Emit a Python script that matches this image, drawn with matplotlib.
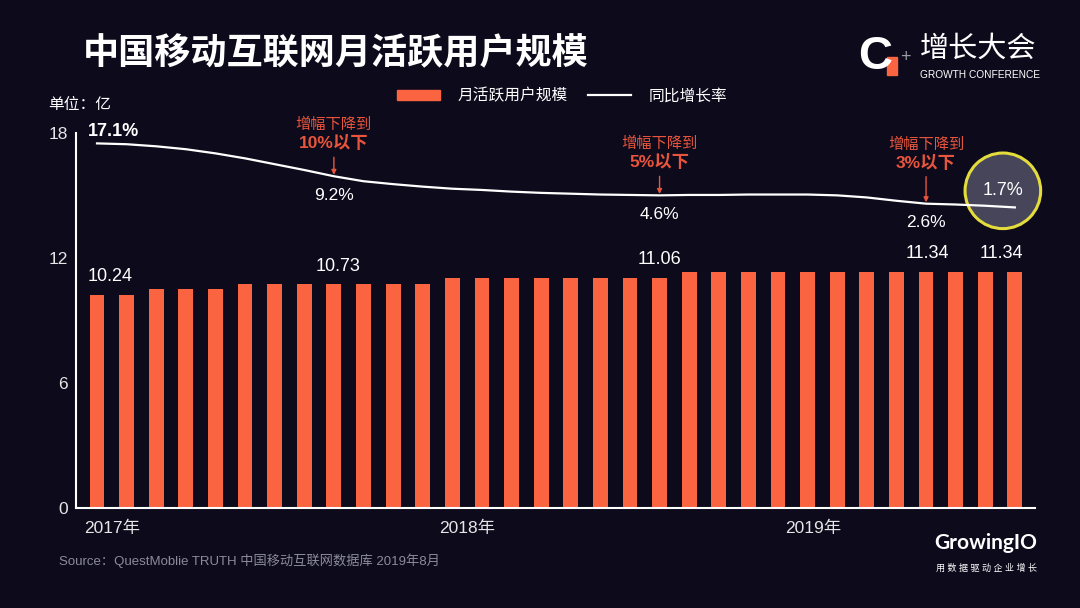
import matplotlib
matplotlib.use("Agg")
import matplotlib.pyplot as plt
from matplotlib.patches import Circle, Rectangle
from matplotlib.lines import Line2D
from matplotlib.transforms import IdentityTransform

plt.rcParams['font.family'] = ['Liberation Sans', 'Noto Sans CJK SC', 'DejaVu Sans']

# monthly data, 2017-01 .. 2019-08
months = list(range(32))
mau = [10.24, 10.24, 10.50, 10.50, 10.50, 10.73, 10.73, 10.73, 10.73, 10.73,
       10.73, 10.73, 11.06, 11.06, 11.06, 11.06, 11.06, 11.06, 11.06, 11.06,
       11.34, 11.34, 11.34, 11.34, 11.34, 11.34, 11.34, 11.34, 11.34, 11.34,
       11.34, 11.34]
growth = [17.1, 16.9, 16.4, 15.7, 14.7, 13.5, 12.1, 10.7, 9.2, 8.0,
          7.3, 6.7, 6.2, 5.9, 5.5, 5.2, 5.0, 4.8, 4.7, 4.6,
          4.7, 4.7, 4.8, 4.8, 4.8, 4.6, 4.1, 3.3, 2.6, 2.4,
          2.1, 1.7]

year_pos = [0.5, 12.5, 24.2]
year_labels = ['2017年', '2018年', '2019年']

bar_label_idx = [0, 8, 19, 28, 30]
bar_label_dx = [13, 4, 0, 1, 16]   # px

drop_idx = [8, 19, 28]
drop_text = ['10%以下', '5%以下', '3%以下']
drop_lift = [0, 0, 8]   # px

BG = '#0C0A1B'
ORANGE = '#FA6440'
RED = '#E8553C'
PT = 0.72  # points per pixel at dpi 100


def fx(px):
    return px / 1080


def fy(py):
    return 1 - py / 608


fig = plt.figure(figsize=(10.8, 6.08), dpi=100, facecolor=BG)
ax = fig.add_axes([fx(76), fy(508), fx(1035 - 76), (508 - 133) / 608])
ax.set_facecolor(BG)

ax.bar(months, mau, width=0.5, color=ORANGE, zorder=2)
ax.set_xlim(-0.71, 31.68)
ax.set_ylim(0, 18)
ax.set_yticks([0, 6, 12, 18])
ax.set_xticks(year_pos)
ax.set_xticklabels(year_labels)
for s in ['top', 'right']:
    ax.spines[s].set_visible(False)
for s in ['left', 'bottom']:
    ax.spines[s].set_color('white')
    ax.spines[s].set_linewidth(1.5)
ax.tick_params(length=0, colors='#E6E6E6', labelsize=12.5)
ax.tick_params(axis='x', pad=9)
ax.tick_params(axis='y', pad=6)

for i, dx in zip(bar_label_idx, bar_label_dx):
    ax.annotate(f'{mau[i]:.2f}', (i, mau[i]), xytext=(dx * PT, 13),
                textcoords='offset points', ha='center', va='center',
                color='white', fontsize=13)

# growth rate on hidden twin axis
ax2 = ax.twinx()
ax2.set_ylim(-70.6, 19.6)
ax2.set_axis_off()
ax2.plot(months, growth, color='white', lw=1.6, zorder=3)

ax2.annotate(f'{growth[0]}%', (0, growth[0]), xytext=(16 * PT, 12 * PT),
             textcoords='offset points', ha='center', va='center',
             color='white', fontsize=13, fontweight='bold')

for i, txt, lift in zip(drop_idx, drop_text, drop_lift):
    ax2.annotate('', xy=(i, growth[i]), xytext=(0, (19 + lift) * PT),
                 textcoords='offset points',
                 arrowprops=dict(arrowstyle='-|>', color=RED, lw=1.0,
                                 mutation_scale=7, shrinkA=0, shrinkB=1))
    ax2.annotate(txt, (i, growth[i]), xytext=(0, (33 + lift) * PT),
                 textcoords='offset points', ha='center', va='center',
                 color=RED, fontsize=12.5, fontweight='bold')
    ax2.annotate('增幅下降到', (i, growth[i]), xytext=(0, (51 + lift) * PT),
                 textcoords='offset points', ha='center', va='center',
                 color=RED, fontsize=11)
    ax2.annotate(f'{growth[i]}%', (i, growth[i]), xytext=(0, -19 * PT),
                 textcoords='offset points', ha='center', va='center',
                 color='white', fontsize=12.5)

# highlight circle around the latest value
px, py = ax2.transData.transform((months[-1], growth[-1]))
cx, cy = px - 12, py + 16.6
ax2.add_patch(Circle((cx, cy), 37.8, transform=IdentityTransform(),
                     facecolor='#46455A', edgecolor='#E3DC3C', lw=2.2,
                     zorder=1, clip_on=False))
ax2.annotate(f'{growth[-1]}%', (months[-1], growth[-1]),
             xytext=(-12 * PT, 16.6 * PT), textcoords='offset points',
             ha='center', va='center', color='white', fontsize=13, zorder=4)

# legend
handles = [Rectangle((0, 0), 1, 1, color=ORANGE),
           Line2D([], [], color='white', lw=1.6)]
fig.legend(handles, ['月活跃用户规模', '同比增长率'], loc='center',
           bbox_to_anchor=(fx(562), fy(96)), ncol=2, frameon=False,
           fontsize=11.3, labelcolor='white', handlelength=2.75,
           handleheight=0.6, handletextpad=1.1, columnspacing=1.3)

# texts
fig.text(fx(83), fy(54), '中国移动互联网月活跃用户规模', fontsize=26,
         fontweight='bold', color='white', va='center',
         family=['Noto Sans CJK SC'])
fig.text(fx(48), fy(104), '单位：亿', fontsize=11.3, color='white', va='center')
fig.text(fx(59), fy(561), 'Source：QuestMoblie TRUTH 中国移动互联网数据库 2019年8月',
         fontsize=9.5, color='#8C8C99', va='center')

# logos
fig.text(fx(875), fy(57), 'C', fontsize=34, fontweight='bold', color='white',
         ha='center', va='center')
fig.patches.append(Rectangle((fx(887), fy(75)), 10 / 1080, 18 / 608,
                             transform=fig.transFigure, color=ORANGE))
fig.text(fx(905), fy(57), '+', fontsize=13, color='#9A9AA5',
         ha='center', va='center')
fig.text(fx(920), fy(49), '增长大会', fontsize=21, color='white', va='center',
         family=['Noto Sans CJK SC'])
fig.text(fx(920), fy(75), 'GROWTH CONFERENCE', fontsize=7.3, color='white',
         va='center')
fig.text(fx(986), fy(543), 'GrowingIO', fontsize=15, fontweight='bold',
         color='white', ha='center', va='center', family=['Lato', 'DejaVu Sans'])
fig.text(fx(986), fy(568), '用 数 据 驱 动 企 业 增 长', fontsize=6.5,
         color='white', ha='center', va='center')

fig.savefig('out.png', dpi=100, facecolor=BG)
